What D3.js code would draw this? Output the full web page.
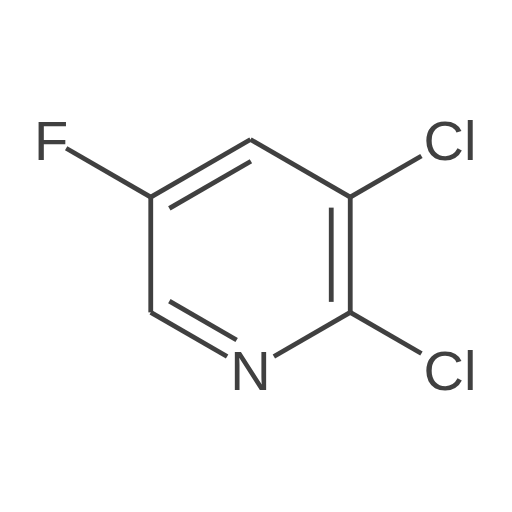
<!DOCTYPE html>
<html>
<head>
<meta charset="utf-8">
<script src="https://cdn.jsdelivr.net/npm/d3@7"></script>
<style>
  html, body { margin: 0; padding: 0; background: #fff; }
  svg { display: block; }
  .bond { stroke: #404040; stroke-width: 4.8; stroke-linecap: butt; fill: none; }
  .atom { fill: #404040; font-family: "Liberation Sans", Arial, sans-serif; font-size: 56px; text-anchor: middle; }
</style>
</head>
<body>
<svg id="chart" width="512" height="512"></svg>
<script>
// 2,3-dichloro-5-fluoropyridine, atoms on a hex grid
const atomNames = ["F", "C", "C", "C", "Cl", "C", "Cl", "N", "C"];
const atomCol = [-2, -1, 0, 1, 2, 1, 2, 0, -1];
const atomRow = [2, 1, 2, 1, 2, -1, -2, -2, -1];

const bondFrom = [0, 1, 2, 3, 3, 5, 5, 7, 8];
const bondTo = [1, 2, 3, 4, 5, 6, 7, 8, 1];
const bondOrder = [1, 2, 1, 1, 2, 1, 1, 2, 1];

const labelGap = { F: 17.5, N: 27, Cl: 33, C: 0 };
const innerOffset = 19;
const innerTrim = 10.5;

const x = d3.scaleLinear().domain([-2, 2]).range([51, 450]);
const y = d3.scaleLinear().domain([-2, 2]).range([370, 139.5]);

const svg = d3.select("#chart");

const atoms = atomNames.map((name, i) => ({
    name: name,
    x: x(atomCol[i]),
    y: y(atomRow[i])
}));
const ringX = d3.mean(atoms.filter((d, i) => i !== 0 && i !== 4 && i !== 6), d => d.x);
const ringY = d3.mean(atoms.filter((d, i) => i !== 0 && i !== 4 && i !== 6), d => d.y);

// returns the drawn segment(s) of one bond
function bondLines(i) {
    let a = atoms[bondFrom[i]];
    let b = atoms[bondTo[i]];
    let len = Math.hypot(b.x - a.x, b.y - a.y);
    let ux = (b.x - a.x) / len;
    let uy = (b.y - a.y) / len;
    let gapA = labelGap[a.name];
    let gapB = labelGap[b.name];

    let lines = [{
        x1: a.x + ux * gapA, y1: a.y + uy * gapA,
        x2: b.x - ux * gapB, y2: b.y - uy * gapB
    }];

    if (bondOrder[i] === 2) {
        // second line goes on the side facing the ring centre
        let nx = -uy;
        let ny = ux;
        if ((ringX - a.x) * nx + (ringY - a.y) * ny < 0) {
            nx = -nx;
            ny = -ny;
        }
        let startCut = Math.max(gapA, innerTrim);
        let endCut = Math.max(gapB, innerTrim);
        lines.push({
            x1: a.x + ux * startCut + nx * innerOffset, y1: a.y + uy * startCut + ny * innerOffset,
            x2: b.x - ux * endCut + nx * innerOffset, y2: b.y - uy * endCut + ny * innerOffset
        });
    }
    return lines;
}

svg.append("rect").attr("width", 512).attr("height", 512).attr("fill", "#fff");

svg.selectAll("line.bond")
    .data(d3.merge(bondFrom.map((d, i) => bondLines(i))))
    .enter().append("line")
    .attr("class", "bond")
    .attr("x1", d => d.x1)
    .attr("y1", d => d.y1)
    .attr("x2", d => d.x2)
    .attr("y2", d => d.y2);

svg.selectAll("text.atom")
    .data(atoms.filter(d => d.name !== "C"))
    .enter().append("text")
    .attr("class", "atom")
    .attr("x", d => d.x)
    .attr("y", d => d.y)
    .attr("dy", "0.36em")
    .text(d => d.name);
</script>
</body>
</html>
